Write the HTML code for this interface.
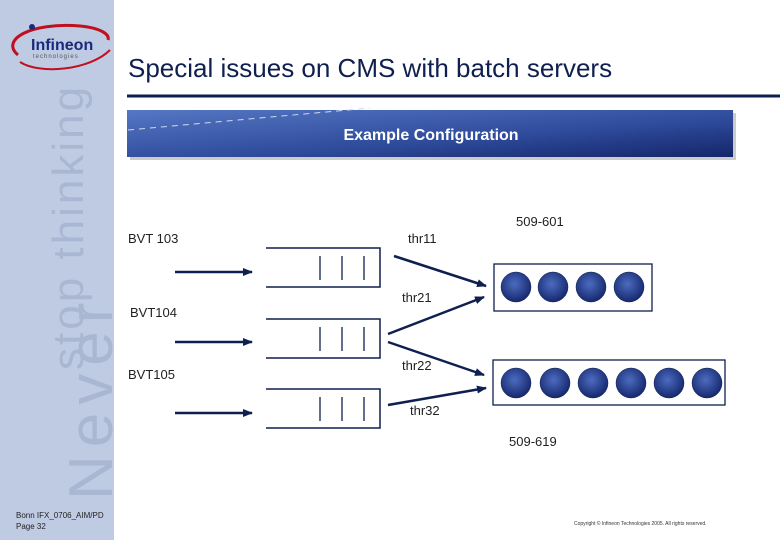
<!DOCTYPE html>
<html><head><style>
body{margin:0;width:780px;height:540px;position:relative;background:#fff;font-family:"Liberation Sans",sans-serif;overflow:hidden}
.side{position:absolute;left:0;top:0;width:114px;height:540px;background:#bfcbe2}
.t{position:absolute;font-size:13px;color:#222;white-space:nowrap}
</style></head><body>
<div class="side"></div>
<svg style="position:absolute;left:0;top:0" width="780" height="540">
  <defs>
    <linearGradient id="bn" x1="0" y1="0" x2="1" y2="1">
      <stop offset="0" stop-color="#5577c4"/><stop offset="0.6" stop-color="#2e4a9a"/><stop offset="1" stop-color="#14266a"/>
    </linearGradient>
    <radialGradient id="ball" cx="0.45" cy="0.4" r="0.6">
      <stop offset="0" stop-color="#4c6cc0"/><stop offset="1" stop-color="#16286e"/>
    </radialGradient>
    <marker id="ah" markerWidth="10" markerHeight="8" refX="9" refY="4" orient="auto" markerUnits="userSpaceOnUse">
      <path d="M0,0 L10,4 L0,8 Z" fill="#0f1f4f"/>
    </marker>
  </defs>
  <!-- watermark -->
  <text x="112" y="500" transform="rotate(-90 112 500)" font-family="Liberation Sans" font-size="62" fill="#a9b7d3" letter-spacing="8">Never</text>
  <text x="83" y="370" transform="rotate(-90 83 370)" font-family="Liberation Sans" font-size="44" fill="#a9b7d3" letter-spacing="3">stop thinking</text>
  <!-- logo -->
  <path d="M18,55 C0,40 30,22 80,26 C100,28 110,34 108,40" fill="none" stroke="#c01020" stroke-width="3"/>
  <path d="M20,62 C40,75 90,70 110,50" fill="none" stroke="#c01020" stroke-width="2"/>
  <circle cx="32" cy="27" r="3" fill="#1a2a7a"/>
  <text x="31" y="50" font-family="Liberation Sans" font-size="16" font-weight="bold" fill="#1a2a7a">Infineon</text>
  <text x="33" y="58" font-family="Liberation Sans" font-size="6" fill="#555" letter-spacing="1">technologies</text>
  <!-- header -->
  <line x1="127" y1="96" x2="780" y2="96" stroke="#0f1f4f" stroke-width="3"/>
  <rect x="130" y="113" width="606" height="47" fill="#999" opacity="0.5"/>
  <rect x="127" y="110" width="606" height="47" fill="url(#bn)"/>
  <path d="M128,130 L370,108" stroke="#cfd8f0" stroke-width="1" stroke-dasharray="6,5"/>
  <text x="431" y="140" text-anchor="middle" font-family="Liberation Sans" font-size="16" font-weight="bold" fill="#fff">Example Configuration</text>
  <!-- queues -->
  <g stroke="#0f1f4f" stroke-width="1.5" fill="none">
    <path d="M266,248 H380 V287 H266"/>
    <path d="M266,319 H380 V358 H266"/>
    <path d="M266,389 H380 V428 H266"/>
  </g>
  <g stroke="#0f1f4f" stroke-width="1.3">
    <line x1="320" y1="256" x2="320" y2="280"/><line x1="342" y1="256" x2="342" y2="280"/><line x1="364" y1="256" x2="364" y2="280"/>
    <line x1="320" y1="327" x2="320" y2="351"/><line x1="342" y1="327" x2="342" y2="351"/><line x1="364" y1="327" x2="364" y2="351"/>
    <line x1="320" y1="397" x2="320" y2="421"/><line x1="342" y1="397" x2="342" y2="421"/><line x1="364" y1="397" x2="364" y2="421"/>
  </g>
  <g stroke="#0f1f4f" stroke-width="2.5" marker-end="url(#ah)">
    <line x1="175" y1="272" x2="252" y2="272"/>
    <line x1="175" y1="342" x2="252" y2="342"/>
    <line x1="175" y1="413" x2="252" y2="413"/>
    <line x1="394" y1="256" x2="486" y2="286"/>
    <line x1="388" y1="334" x2="484" y2="297"/>
    <line x1="388" y1="342" x2="484" y2="375"/>
    <line x1="388" y1="405" x2="486" y2="388"/>
  </g>
  <!-- servers -->
  <rect x="494" y="264" width="158" height="47" fill="none" stroke="#0f1f4f" stroke-width="1.3"/>
  <rect x="493" y="360" width="232" height="45" fill="none" stroke="#0f1f4f" stroke-width="1.3"/>
  <g fill="url(#ball)" stroke="#0f1f4f" stroke-width="0.5">
    <circle cx="516" cy="287" r="15"/><circle cx="553" cy="287" r="15"/><circle cx="591" cy="287" r="15"/><circle cx="629" cy="287" r="15"/>
    <circle cx="516" cy="383" r="15"/><circle cx="555" cy="383" r="15"/><circle cx="593" cy="383" r="15"/><circle cx="631" cy="383" r="15"/><circle cx="669" cy="383" r="15"/><circle cx="707" cy="383" r="15"/>
  </g>
</svg>
<div class="t" style="left:128px;top:53px;font-size:26px;color:#0f1f4f">Special issues on CMS with batch servers</div>
<div class="t" style="left:128px;top:231px">BVT 103</div>
<div class="t" style="left:130px;top:305px">BVT104</div>
<div class="t" style="left:128px;top:367px">BVT105</div>
<div class="t" style="left:408px;top:231px">thr11</div>
<div class="t" style="left:402px;top:290px">thr21</div>
<div class="t" style="left:402px;top:358px">thr22</div>
<div class="t" style="left:410px;top:403px">thr32</div>
<div class="t" style="left:516px;top:214px">509-601</div>
<div class="t" style="left:509px;top:434px">509-619</div>
<div class="t" style="left:16px;top:510px;font-size:8px;line-height:11px">Bonn IFX_0706_AIM/PD<br>Page 32</div>
<div class="t" style="left:574px;top:521px;font-size:5px;color:#333">Copyright © Infineon Technologies 2005. All rights reserved.</div>
</body></html>
